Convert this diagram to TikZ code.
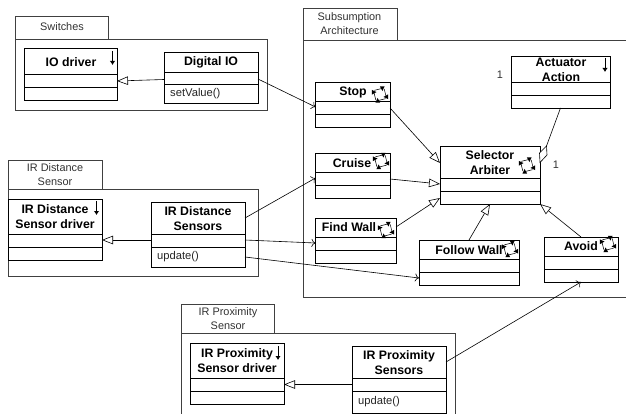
\documentclass[tikz,border=0pt]{standalone}
\usepackage{fontspec}
\setmainfont{Liberation Sans}
\usetikzlibrary{arrows.meta}
\tikzset{
  x=1pt,y=-1pt,
  box/.style={draw=black,line width=0.8pt,rectangle,inner sep=0pt,outer sep=0pt,anchor=north west},
  pkg/.style={draw=black!75,line width=0.8pt},
  pkgtext/.style={font=\fontsize{10.9}{14}\selectfont,align=center,text=black!80,inner sep=0pt},
  title/.style={font=\fontsize{12.3}{15}\selectfont\bfseries,align=center,inner sep=0pt,yshift=-0.5pt},
  oper/.style={font=\fontsize{11.2}{12}\selectfont,anchor=west,inner sep=0pt,text=black!85},
  mult/.style={font=\fontsize{10.9}{10}\selectfont,inner sep=0pt,text=black!80},
  gen/.style={line width=0.6pt,-{Triangle[open,length=11pt,width=8.5pt,fill=white]}},
  dep/.style={line width=0.6pt,-{To[length=4pt,width=8pt]}},
  assoc/.style={line width=0.6pt},
  downmark/.style={line width=0.8pt,-{Latex[length=4pt,width=5.5pt]}}
}
% name, x1, y1, x2, y2, divider1, divider2
\newcommand{\umlclass}[7]{%
  \node[box,minimum width=#4pt-#2pt,minimum height=#5pt-#3pt] (#1) at (#2,#3) {};
  \draw[line width=0.8pt] (#2,#6) -- (#4,#6) (#2,#7) -- (#4,#7);
}
% active-object icon at centre
\newcommand{\activeicon}[2]{%
  \begin{scope}[shift={(#1,#2)},rotate=14]
    \foreach \a in {0,90,180,270}{
      \begin{scope}[rotate=\a]
        \draw[line width=0.5pt] (-4.5,-5.4) -- (3,-5.4);
        \fill (6.4,-6.8) -- (1.8,-8) -- (3.2,-2.8) -- cycle;
      \end{scope}
    }
  \end{scope}
}
\newcommand{\downmarkat}[2]{\draw[downmark] (#1,#2) -- ++(0,14);}
\begin{document}
\begin{tikzpicture}
\useasboundingbox (0,0) rectangle (626,414);
\fill[white] (0,0) rectangle (626,414);

% packages
\draw[pkg] (15,39) rectangle (267,110);
\draw[pkg] (15,39) -- (15,16) -- (108,16) -- (108,39);
\node[pkgtext] at (62,27) {Switches};

\draw[pkg] (626,40) -- (303,40) -- (303,297) -- (626,297);
\draw[pkg] (303,40) -- (303,8) -- (397,8) -- (397,40);
\node[pkgtext] at (349.5,24) {Subsumption\\Architecture};

\draw[pkg] (8,189) rectangle (258,276);
\draw[pkg] (8,189) -- (8,160) -- (102,160) -- (102,189);
\node[pkgtext] at (55,175) {IR Distance\\Sensor};

\draw[pkg] (181,414) -- (181,333) -- (455,333) -- (455,414);
\draw[pkg] (181,333) -- (181,304) -- (274,304) -- (274,333);
\node[pkgtext] at (228,319) {IR Proximity\\Sensor};

% classes
\umlclass{iodrv}{24}{48}{117}{100}{74}{87}
\umlclass{digio}{164}{52}{258}{103}{72}{84}
\umlclass{stop}{315.5}{82}{390}{127}{101}{114}
\umlclass{cruise}{315.5}{153}{390}{198}{172}{185}
\umlclass{find}{315.5}{218}{396}{263}{237}{250}
\umlclass{follow}{419}{240}{519}{285}{259}{272}
\umlclass{avoid}{544}{237}{618}{282}{256}{269}
\umlclass{sel}{440}{146}{540}{204}{178.5}{191.5}
\umlclass{act}{511}{56}{610}{108}{82}{95}
\umlclass{irdrv}{8}{199}{102}{260}{234}{247}
\umlclass{irsens}{151}{202}{245}{267}{234}{247}
\umlclass{prdrv}{190}{343}{284}{404}{378}{391}
\umlclass{prsens}{352}{346}{446}{413.4}{378}{391}

% titles
\node[title] at (71,62) {IO driver};
\node[title] at (211,62) {Digital IO};
\node[title] at (353,92) {Stop};
\node[title] at (352,163) {Cruise};
\node[title] at (349,227) {Find Wall};
\node[title] at (469,250) {Follow Wall};
\node[title] at (581,246) {Avoid};
\node[title] at (490,162) {Selector\\Arbiter};
\node[title] at (561,69) {Actuator\\Action};
\node[title] at (55,216) {IR Distance\\Sensor driver};
\node[title] at (198,218) {IR Distance\\Sensors};
\node[title] at (237,360) {IR Proximity\\Sensor driver};
\node[title] at (399,362) {IR Proximity\\Sensors};

% operations
\node[oper] at (170,93.5) {setValue()};
\node[oper] at (157,257) {update()};
\node[oper] at (358,402) {update()};

% multiplicities
\node[mult] at (500,75) {1};
\node[mult] at (556,165) {1};

% icons
\downmarkat{112.5}{51}
\downmarkat{96.5}{201}
\downmarkat{278}{346}
\downmarkat{605}{58}
\activeicon{380}{94.5}
\activeicon{381}{161}
\activeicon{386}{230}
\activeicon{510}{249}
\activeicon{608}{244}
\activeicon{527}{165.5}

% connectors
\draw[gen] (digio.west |- 164,79.5) -- (iodrv.east |- 117,81);
\draw[gen] (irsens.west |- 151,240) -- (irdrv.east |- 102,240);
\draw[gen] (prsens.west |- 352,384.5) -- (prdrv.east |- 284,384.5);
\draw[gen] (stop.east |- 390,108) -- (sel.west |- 440,163);
\draw[gen] (cruise.east |- 390,179) -- (sel.west |- 440,184);
\draw[gen] (find.east |- 396,227) -- (sel.west |- 440,198);
\draw[gen] (follow.north -| 469,240) -- (sel.south -| 490,204);
\draw[gen] (avoid.north) -- (sel.south east);
\draw[dep] (digio.east |- 258,79) -- (stop.west |- 315.5,107);
\draw[dep] (irsens.east |- 245,218) -- (cruise.west |- 315.5,178);
\draw[dep] (irsens.east |- 245,240) -- (find.west |- 315.5,243);
\draw[dep] (irsens.east |- 245,257) -- (follow.west |- 419,278);
\draw[dep] (prsens.east |- 446,362) -- (avoid.south);
\draw[assoc] (act.south) -- (546.5,146);
\draw[assoc,fill=white] (540,162.5) -- (539.5,153) -- (546.5,146) -- (547,155) -- cycle;
\end{tikzpicture}
\end{document}
